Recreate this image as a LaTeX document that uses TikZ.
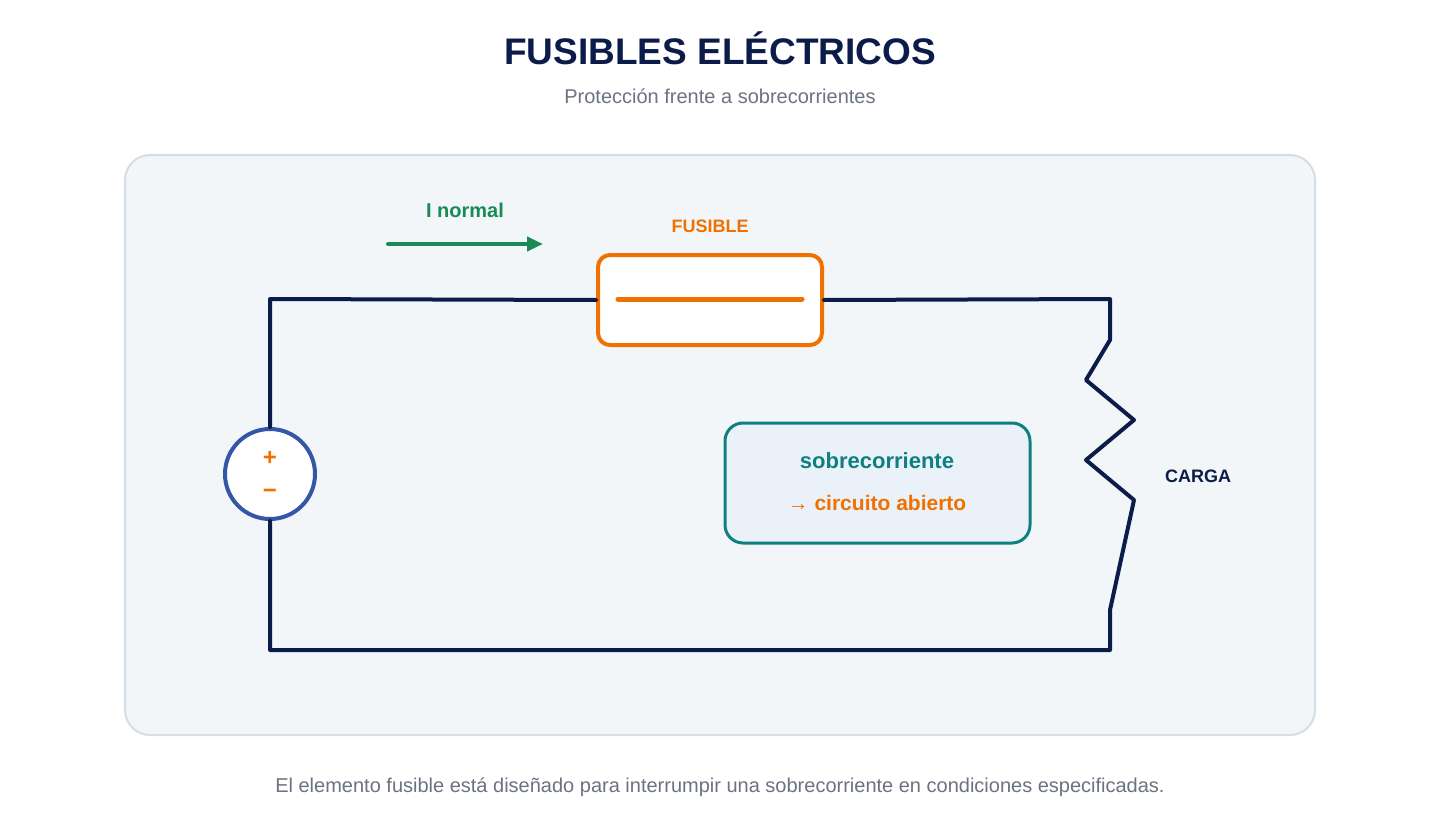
\documentclass[tikz,border=0pt]{standalone}
\usepackage{fontspec}
\setmainfont{Liberation Sans}
\usetikzlibrary{arrows.meta}
\definecolor{navy}{HTML}{0C1C4A}
\definecolor{gr}{HTML}{6B7280}
\definecolor{org}{HTML}{F07000}
\definecolor{grn}{HTML}{1A8A55}
\definecolor{teal2}{HTML}{0F8080}
\definecolor{blu}{HTML}{3556A8}
\definecolor{panelbg}{HTML}{F2F6F8}
\definecolor{panelbd}{HTML}{D5DDE5}
\definecolor{boxbg}{HTML}{EAF1F8}
\begin{document}
\begin{tikzpicture}[x=1pt,y=-1pt,
 wire/.style={navy,line width=4pt,line join=round,line cap=round},
 lbl/.style={font=\bfseries\fontsize{18}{20}\selectfont}]
\useasboundingbox (0,0) rectangle (1440,840);
\node[navy,font=\bfseries\fontsize{37}{40}\selectfont] (t) at (720,48) {FUSIBLES ELÉCTRICOS};
\node[gr,font=\fontsize{20}{24}\selectfont] (st) at (720,96) {Protección frente a sobrecorrientes};
\draw[fill=panelbg,draw=panelbd,line width=2pt,rounded corners=25pt] (125,155) rectangle (1315,735);
% fuse
\node[draw=org,fill=white,line width=4pt,rounded corners=12pt,minimum width=224pt,minimum height=90pt] (fuse) at (710,300) {};
\draw[org,line width=5pt,line cap=round] (618,299) -- (802,299);
\node[lbl,text=org] (fl) at (710,226) {FUSIBLE};
% source
\node[circle,draw=blu,fill=white,line width=4pt,minimum size=90pt,inner sep=0] (src) at (270,474) {};
\node[text=org,font=\bfseries\fontsize{24}{24}\selectfont] (p) at (270,458) {+};
\node[text=org,font=\bfseries\fontsize{24}{24}\selectfont] (m) at (270,494) {−};
\coordinate (c1) at (270,299);
\coordinate (c2) at (1110,299);
\coordinate (c3) at (1110,650);
\coordinate (c4) at (270,650);
\draw[wire] (src.north) -- (c1) -- (fuse.west);
\draw[wire] (fuse.east) -- (c2) -- (1110,340) -- (1086,380) -- (1134,420) -- (1086,460) -- (1134,500) -- (1110,610) -- (c3) -- (c4) -- (src.south);
\node[lbl,text=navy] (cg) at (1198,476) {CARGA};
% current arrow
\coordinate (a1) at (388,244);
\coordinate (a2) at (543,244);
\draw[grn,line width=4pt,line cap=round,-{Triangle[length=16pt,width=14pt]}] (a1) -- (a2);
\node[text=grn,font=\bfseries\fontsize{20}{24}\selectfont] (in) at (465,210) {I normal};
% info box
\node[draw=teal2,fill=boxbg,line width=3pt,rounded corners=18pt,minimum width=305pt,minimum height=120pt] (bx) at (877.5,483) {};
\node[text=teal2,font=\bfseries\fontsize{22}{26}\selectfont] (b1) at (877,461) {sobrecorriente};
\node[text=org,font=\bfseries\fontsize{21}{24}\selectfont] (b2) at (877,503) {→ circuito abierto};
\node[gr,font=\fontsize{20}{24}\selectfont] (ft) at (720,787) {El elemento fusible está diseñado para interrumpir una sobrecorriente en condiciones especificadas.};
\end{tikzpicture}
\end{document}
